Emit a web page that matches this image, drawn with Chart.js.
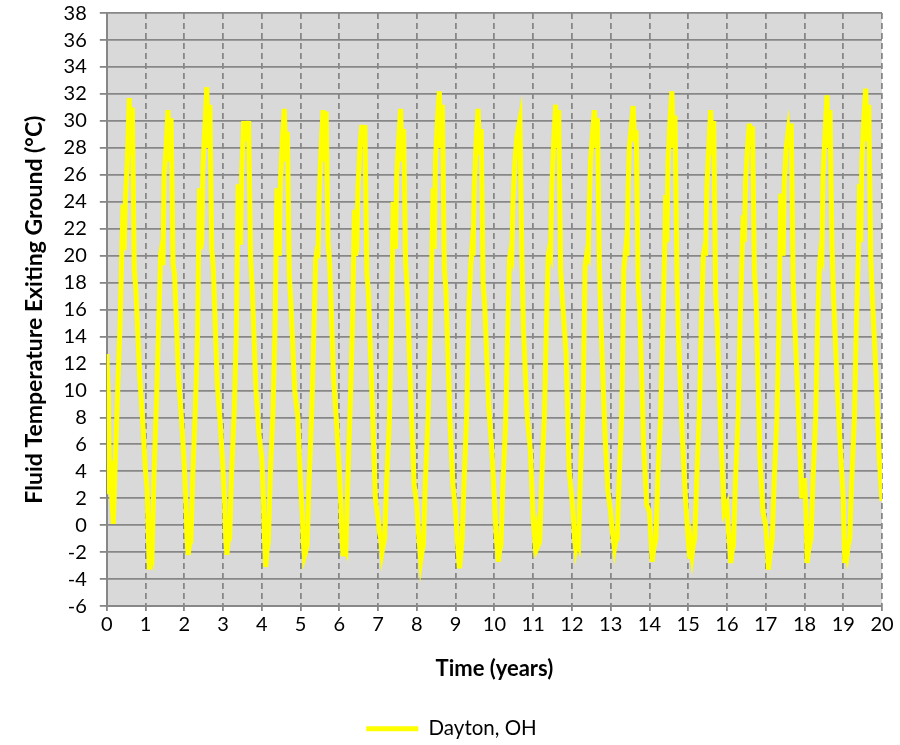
<!DOCTYPE html>
<html>
<head>
<meta charset="utf-8">
<script src="https://cdn.jsdelivr.net/npm/chart.js@4"></script>
<style>
  html, body { margin: 0; padding: 0; background: #fff; }
  #wrap { width: 900px; height: 745px; }
</style>
</head>
<body>
<div id="wrap"><canvas id="chart" width="900" height="745"></canvas></div>
<script>
// position of each reading inside a year (fraction of the year)
const yearFrac = [0.00, 0.04, 0.07, 0.10, 0.13, 0.17, 0.22, 0.29, 0.34, 0.39, 0.42,
                  0.45, 0.48, 0.53, 0.58, 0.62, 0.66, 0.71, 0.75, 0.85, 0.93];

// fluid temperature exiting ground (deg C), one row per simulated year
const y00 = [12.7, 9.5, 2.3, 4.8, 2.0, 0.1, 4.8, 10.7, 14.6, 20.5, 23.8, 20.4, 24.2, 27.0, 31.7, 27.5, 31.0, 19.0, 17.5, 11.0, 7.5];
const y01 = [4.0, 2.7, -0.5, -3.3, -1.5, -2.0, 3.8, 9.9, 15.0, 20.1, 20.6, 19.3, 26.0, 28.0, 30.8, 27.0, 30.2, 19.4, 18.6, 11.0, 7.8];
const y02 = [4.5, 1.7, -0.8, -2.2, -1.5, -1.2, 3.8, 9.0, 14.0, 25.0, 20.5, 21.0, 26.5, 29.5, 32.5, 28.0, 31.2, 20.5, 19.0, 10.5, 7.5];
const y03 = [4.0, 1.8, -1.0, -2.2, -1.2, -1.0, 3.8, 8.5, 14.0, 25.3, 24.0, 20.8, 26.0, 29.8, 29.8, 28.5, 30.0, 20.0, 17.8, 10.0, 6.7];
const y04 = [5.0, 2.0, -1.0, -3.1, -2.0, -1.2, 3.8, 8.5, 14.5, 25.0, 24.5, 20.0, 25.5, 28.5, 30.9, 27.0, 29.2, 18.6, 16.5, 10.0, 8.0];
const y05 = [3.0, 1.0, -1.2, -2.3, -2.0, -1.5, 3.3, 8.5, 14.0, 19.7, 20.3, 20.2, 24.5, 28.0, 30.8, 27.0, 30.7, 21.0, 19.5, 11.0, 7.5];
const y06 = [4.0, 1.5, -1.0, -2.3, -1.5, -1.8, 3.4, 9.7, 15.0, 23.4, 20.0, 20.5, 25.0, 28.0, 29.7, 28.5, 29.7, 18.7, 17.3, 9.0, 2.0];
const y07 = [0.5, -0.6, -1.0, -2.0, -1.5, -1.0, 3.2, 7.6, 14.0, 24.0, 23.0, 20.5, 26.0, 28.5, 30.9, 27.0, 29.4, 19.5, 17.6, 9.0, 3.0];
const y08 = [1.5, -0.5, -1.5, -2.6, -2.0, -1.5, 3.3, 8.0, 14.0, 20.5, 25.0, 20.5, 27.0, 30.0, 32.2, 28.0, 31.2, 19.0, 17.5, 8.0, 3.0];
const y09 = [1.0, -1.0, -2.0, -3.2, -2.3, -1.0, 3.3, 8.5, 16.0, 19.2, 20.5, 20.0, 25.0, 28.5, 30.9, 27.5, 29.4, 18.0, 16.4, 9.0, 5.8];
const y10 = [2.0, -0.5, -1.5, -2.7, -2.0, -1.5, 3.0, 7.5, 14.0, 19.8, 20.3, 20.0, 24.0, 27.0, 28.8, 29.5, 30.1, 20.0, 14.6, 8.0, 5.5];
const y11 = [0.5, -1.0, -0.5, -1.7, -1.5, -1.2, 3.3, 8.0, 14.5, 20.0, 20.5, 20.2, 25.0, 28.5, 31.2, 28.0, 30.8, 19.0, 17.0, 12.7, 4.0];
const y12 = [2.0, 0.5, -1.0, -1.7, -1.2, -1.5, 3.5, 9.0, 19.2, 20.2, 20.0, 24.0, 27.0, 29.0, 30.8, 28.0, 30.2, 19.2, 15.0, 7.0, 2.5];
const y13 = [1.0, -0.5, -1.0, -1.7, -1.2, -1.0, 3.5, 8.5, 19.0, 20.5, 20.0, 25.0, 28.0, 29.5, 31.1, 28.5, 29.3, 18.0, 16.0, 6.0, 1.5];
const y14 = [1.0, -1.0, -2.7, -2.0, -1.5, -1.0, 3.8, 8.0, 14.0, 20.0, 24.5, 21.0, 27.0, 30.0, 32.2, 28.0, 30.4, 18.7, 14.0, 6.5, 2.0];
const y15 = [-1.0, -2.5, -1.5, -2.2, -1.5, -1.0, 3.3, 8.5, 15.0, 20.0, 20.5, 20.0, 25.0, 28.0, 30.8, 27.5, 30.0, 17.0, 15.0, 6.0, 1.0];
const y16 = [1.5, -0.5, -1.5, -2.8, -2.0, -1.5, 3.3, 8.0, 15.0, 20.0, 23.0, 21.0, 25.5, 28.0, 29.8, 28.5, 29.6, 18.7, 17.0, 5.0, 1.0];
const y17 = [0.0, -1.5, -3.3, -2.5, -1.8, -1.0, 3.3, 8.0, 14.5, 24.6, 24.0, 20.0, 25.5, 28.0, 29.2, 28.0, 29.8, 18.0, 15.0, 8.0, 2.0];
const y18 = [3.5, 1.0, -2.8, -2.0, -1.5, -1.0, 3.3, 8.0, 15.0, 19.5, 20.3, 20.0, 26.0, 29.0, 31.9, 28.0, 30.8, 20.8, 17.0, 10.0, 5.5];
const y19 = [2.0, -2.8, -1.8, -2.2, -1.5, -1.0, 3.3, 8.0, 15.0, 20.0, 25.3, 21.0, 27.0, 30.0, 32.4, 28.5, 31.2, 20.0, 17.0, 11.0, 5.0];
const endValue = 1.8; // last reading, at year 20

const years = [y00, y01, y02, y03, y04, y05, y06, y07, y08, y09,
               y10, y11, y12, y13, y14, y15, y16, y17, y18, y19];

const seriesLabel = 'Dayton, OH';
const xTitle = 'Time (years)';
const yTitle = 'Fluid Temperature Exiting Ground (°C)';

const points = [];
years.forEach((vals, yr) => {
  vals.forEach((v, i) => points.push({ x: yr + yearFrac[i], y: v }));
});
points.push({ x: years.length, y: endValue });

const fontFamily = 'Lato, "Open Sans", sans-serif';
const gridGray = '#878787';

// gray plot background
const plotBg = {
  id: 'plotBg',
  beforeDraw(chart) {
    const { ctx, chartArea: a } = chart;
    ctx.save();
    ctx.fillStyle = '#d9d9d9';
    ctx.fillRect(a.left, a.top, a.right - a.left, a.bottom - a.top);
    ctx.restore();
  }
};

const ctx = document.getElementById('chart').getContext('2d');
new Chart(ctx, {
  type: 'line',
  data: {
    datasets: [{
      label: seriesLabel,
      data: points,
      borderColor: '#ffff00',
      backgroundColor: '#ffff00',
      borderWidth: 5,
      pointRadius: 0,
      tension: 0,
      fill: false,
    }],
  },
  options: {
    responsive: false,
    animation: false,
    layout: { padding: { left: 21, right: 18, top: 0, bottom: -4 } },
    scales: {
      x: {
        type: 'linear',
        min: 0,
        max: 20,
        ticks: { stepSize: 1, autoSkip: false, maxRotation: 0, color: '#000', padding: 1, font: { family: fontFamily, size: 20 } },
        grid: { color: gridGray, lineWidth: 1.8, tickLength: 5, tickBorderDash: [] },
        border: { display: true, color: gridGray, width: 2, dash: [6, 4] },
        title: {
          display: true,
          text: xTitle,
          color: '#000',
          font: { family: fontFamily, size: 22, weight: 'bold' },
          padding: { top: 19, bottom: 36 },
        },
      },
      y: {
        min: -6,
        max: 38,
        ticks: {
          stepSize: 2, autoSkip: false, color: '#000', padding: 13,
          font: { family: fontFamily, size: 20, lineHeight: 0.01 },
        },
        grid: { color: gridGray, lineWidth: 1.8, tickLength: 7 },
        border: { display: true, color: gridGray, width: 2 },
        title: {
          display: true,
          text: yTitle,
          color: '#000',
          font: { family: fontFamily, size: 23, weight: 'bold' },
          padding: { top: 0, bottom: 2 },
        },
      },
    },
    plugins: {
      legend: {
        position: 'bottom',
        labels: {
          usePointStyle: true,
          pointStyle: 'line',
          pointStyleWidth: 52,
          color: '#000',
          padding: 0,
          font: { family: fontFamily, size: 20.5 },
        },
      },
      tooltip: { enabled: false },
    },
  },
  plugins: [plotBg],
});
</script>
</body>
</html>
